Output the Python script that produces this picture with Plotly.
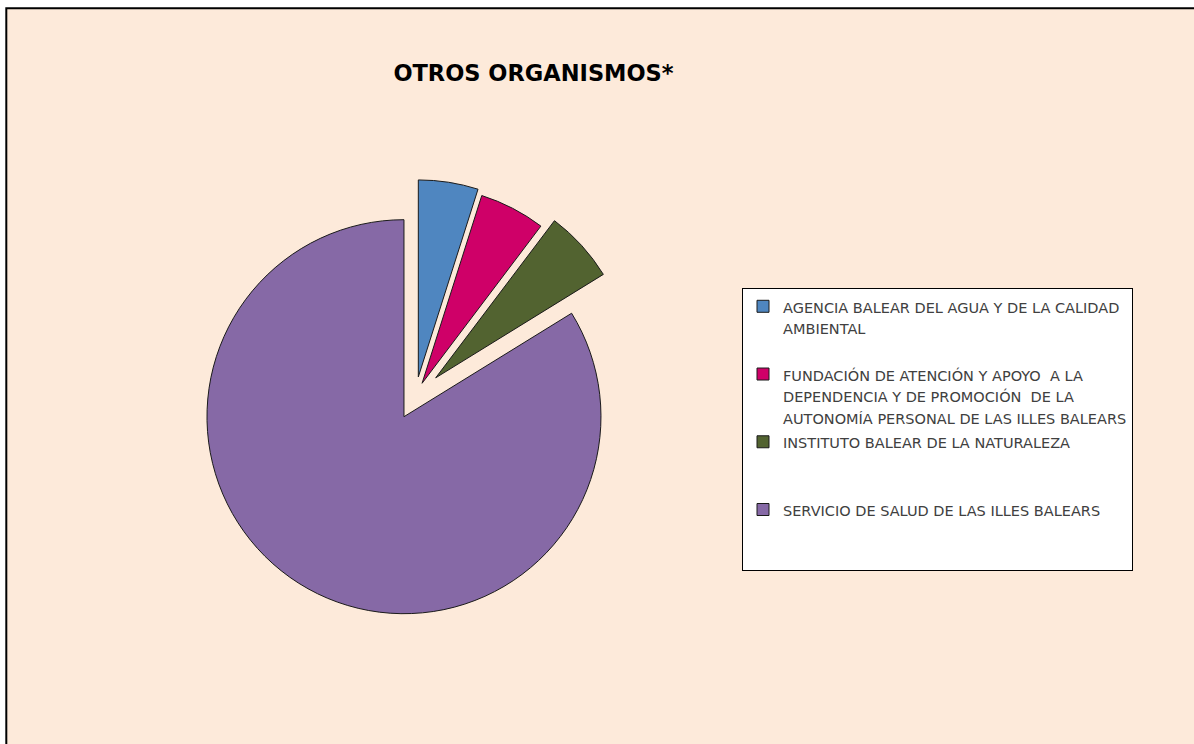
import plotly.graph_objects as go

# datos (porcentaje aproximado de cada sector)
organismos = [
    "AGENCIA BALEAR DEL AGUA Y DE LA CALIDAD AMBIENTAL",
    "FUNDACIÓN DE ATENCIÓN Y APOYO  A LA DEPENDENCIA Y DE PROMOCIÓN  DE LA AUTONOMÍA PERSONAL DE LAS ILLES BALEARS",
    "INSTITUTO BALEAR DE LA NATURALEZA",
    "SERVICIO DE SALUD DE LAS ILLES BALEARS",
]
valores = [4.9, 5.4, 5.9, 83.8]

# cortes de línea tal como aparecen en la leyenda
lineas_leyenda = [
    ["AGENCIA BALEAR DEL AGUA Y DE LA CALIDAD", "AMBIENTAL", ""],
    ["FUNDACIÓN DE ATENCIÓN Y APOYO  A LA", "DEPENDENCIA Y DE PROMOCIÓN  DE LA",
     "AUTONOMÍA PERSONAL DE LAS ILLES BALEARS"],
    ["INSTITUTO BALEAR DE LA NATURALEZA", "", ""],
    ["SERVICIO DE SALUD DE LAS ILLES BALEARS", "", ""],
]

colores = ["#4F86C0", "#CF0068", "#526330", "#8669A6"]
separacion = [0.1, 0.075, 0.14, 0.118]   # Excel separa también el sector grande

W, H = 1194, 744
FONDO = "#FDEADA"


def etiqueta(lineas):
    # letra pequeña dentro de un interlineado grande (como en Excel)
    partes = [f"<span style='font-size:14.5px'>{t}</span>" if t else "\u00a0" for t in lineas]
    return "<br>".join(partes)


textos = [etiqueta(l) for l in lineas_leyenda]

# centro real y radio del pastel en píxeles
cx, cy, r = 415.3, 396.4, 197
half = r * (1 + max(separacion))

fig = go.Figure()
fig.add_trace(go.Pie(
    labels=textos,
    values=valores,
    hovertext=organismos,
    hoverinfo="text+percent",
    sort=False,
    direction="clockwise",
    rotation=0,
    pull=separacion,
    textinfo="none",
    marker={"colors": colores, "line": {"color": "#1a1a1a", "width": 1}},
    domain={"x": [(cx - half) / W, (cx + half) / W],
            "y": [(H - cy - half) / H, (H - cy + half) / H]},
))

# marco del área del gráfico (recortado a la derecha y abajo)
fig.add_shape(
    type="rect", xref="paper", yref="paper", layer="below",
    x0=6.3 / W, x1=1.05, y0=-0.05, y1=1 - 8.2 / H,
    fillcolor=FONDO, line={"color": "black", "width": 2},
)

fig.update_layout(
    width=W, height=H,
    paper_bgcolor="white",
    margin={"l": 0, "r": 0, "t": 0, "b": 0},
    title={
        "text": "OTROS ORGANISMOS*",
        "x": 533.5 / W, "xanchor": "center",
        "y": 1 - 73 / H, "yanchor": "middle", "yref": "container",
        "font": {"family": "DejaVu Sans", "size": 22.5, "color": "black", "weight": "bold"},
    },
    legend={
        "x": 742 / W, "y": 1 - 288 / H, "xanchor": "left", "yanchor": "top",
        "bgcolor": "white", "bordercolor": "black", "borderwidth": 1,
        "font": {"family": "DejaVu Sans", "size": 16.6, "color": "#404040"},
        "valign": "top",
        "traceorder": "normal",
    },
    showlegend=True,
)

# sin margen del body ni barras de desplazamiento: la figura ocupa la ventana
fig.write_html(
    "out.html",
    config={"displayModeBar": False},
    post_script="document.body.style.margin='0';document.body.style.overflow='hidden';",
)
